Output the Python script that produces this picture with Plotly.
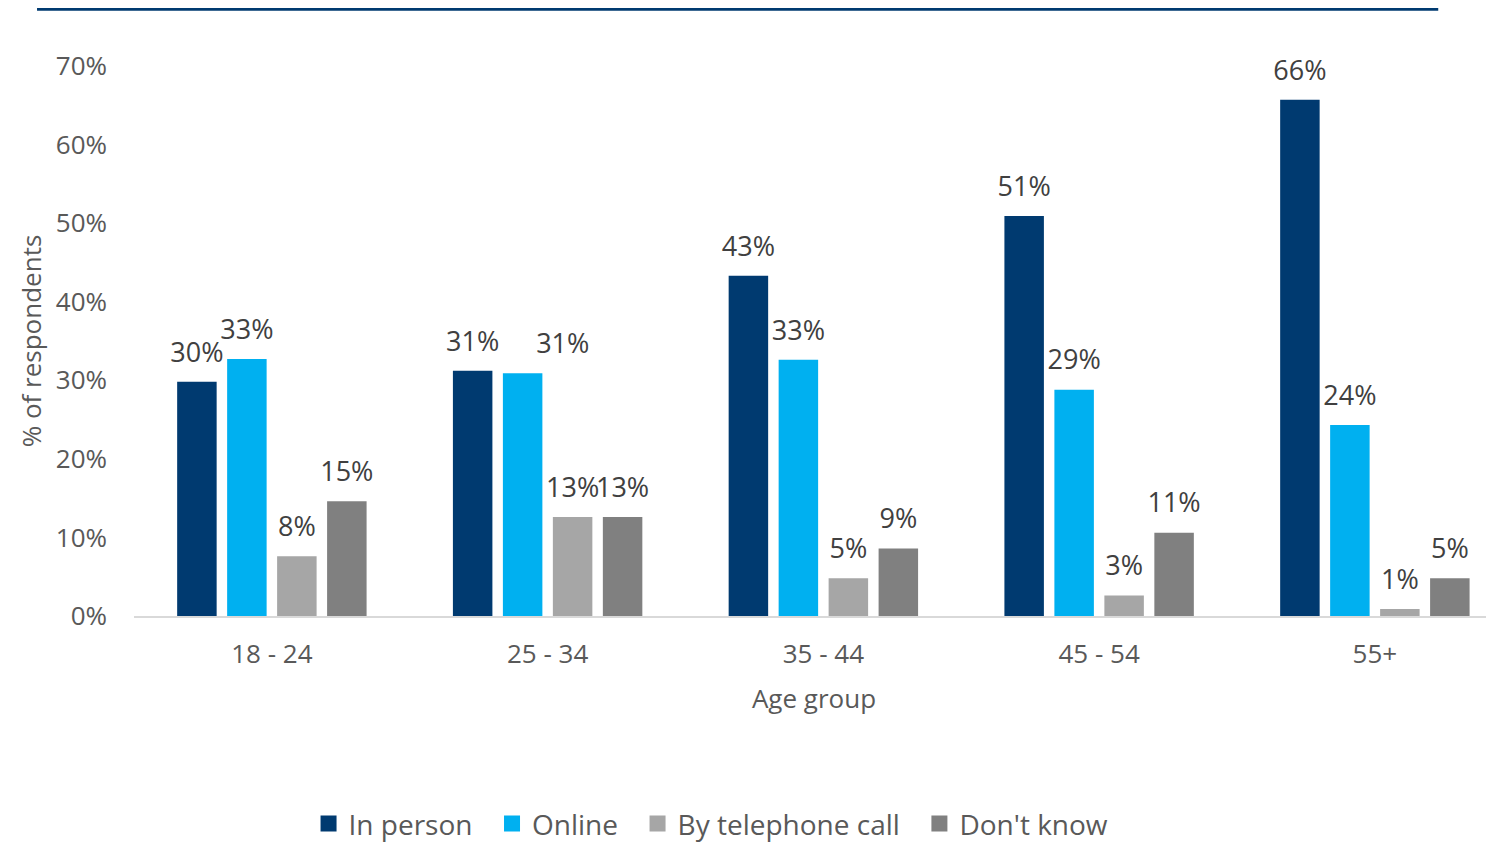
import plotly.graph_objects as go

# survey data, % of respondents
age_groups = ["18 - 24", "25 - 34", "35 - 44", "45 - 54", "55+"]
in_person = [29.8, 31.2, 43.3, 50.9, 65.7]
online = [32.7, 30.9, 32.6, 28.8, 24.3]
telephone = [7.6, 12.6, 4.8, 2.6, 0.9]
dont_know = [14.6, 12.6, 8.6, 10.6, 4.8]

series = [
    ("In person", in_person, "#003A70"),
    ("Online", online, "#00B0F0"),
    ("By telephone call", telephone, "#A6A6A6"),
    ("Don't know", dont_know, "#808080"),
]

FONT = "Open Sans"
GAP = 0.275
PAD = "\u00a0" * 2  # extra room between legend entries

# label placement; the online 25-34 label is nudged right like in the original
label_pos = {
    "Online": ["top center", "top right", "top center", "top center", "top center"],
}

fig = go.Figure()
for name, vals, col in series:
    fig.add_trace(go.Bar(
        x=age_groups, y=vals, name=name, showlegend=False,
        marker=dict(color=col, line=dict(width=0)),
    ))
# value labels, grouped the same way as the bars but lifted a bit higher
for name, vals, col in series:
    fig.add_trace(go.Scatter(
        x=age_groups, y=vals, mode="markers+text", showlegend=False,
        marker=dict(size=20, opacity=0),
        texttemplate="%{y:.0f}%", textposition=label_pos.get(name, "top center"),
        textfont=dict(family=FONT, size=27, color="#404040"),
        cliponaxis=False, hoverinfo="skip",
    ))
# legend keys with bigger squares, on a hidden axis pair so they don't join the grouping
for i, (name, vals, col) in enumerate(series):
    fig.add_trace(go.Scatter(
        x=[None], y=[None], mode="markers", xaxis="x2", yaxis="y2",
        name=name + (PAD if i < len(series) - 1 else ""),
        marker=dict(symbol="square", size=16, color=col),
    ))

fig.update_layout(
    width=1486, height=836,
    paper_bgcolor="white", plot_bgcolor="white",
    margin=dict(l=126, r=0, t=58, b=228, autoexpand=False),
    barmode="group", bargap=GAP, bargroupgap=0.21,
    scattermode="group", scattergap=GAP,
    font=dict(family=FONT, color="#595959"),
    showlegend=True,
    legend=dict(orientation="h", x=0.4243, xanchor="center", y=-0.378, yanchor="middle",
                font=dict(family=FONT, size=28, color="#595959"),
                itemwidth=30, traceorder="normal"),
    xaxis=dict(
        range=[-0.5, 4.432], showgrid=False,
        showline=True, linecolor="#D9D9D9", linewidth=2,
        tickfont=dict(size=26, color="#595959"), ticks="", ticklabelstandoff=14,
        title=dict(text="Age group", font=dict(size=26, color="#595959"), standoff=20),
    ),
    yaxis=dict(
        range=[0, 70], dtick=10, ticksuffix="%", showgrid=False, zeroline=False,
        showline=False, tickfont=dict(size=26, color="#595959"), ticklabelstandoff=26,
        title=dict(text="% of respondents", font=dict(size=26, color="#595959"), standoff=6),
    ),
    xaxis2=dict(overlaying="x", visible=False),
    yaxis2=dict(overlaying="y", visible=False),
    # dark rule across the top
    shapes=[dict(type="line", xref="paper", yref="paper",
                 x0=-0.0713, x1=0.959, y0=1.104, y1=1.104,
                 line=dict(color="#003A70", width=4))],
)

fig.write_html("out.html")
